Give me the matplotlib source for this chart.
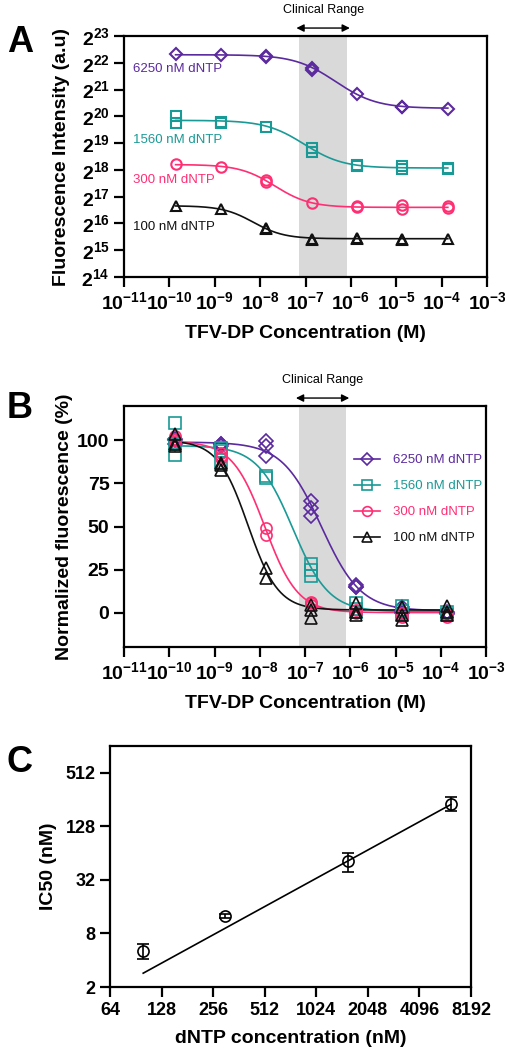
import numpy as np
import matplotlib
matplotlib.use('Agg')
from matplotlib import pyplot as plt
from matplotlib import transforms

plt.rcParams['font.family'] = ['Liberation Sans', 'DejaVu Sans']
plt.rcParams['mathtext.fontset'] = 'custom'
plt.rcParams['mathtext.rm'] = 'Liberation Sans:bold'
plt.rcParams['mathtext.bf'] = 'Liberation Sans:bold'
plt.rcParams['mathtext.it'] = 'Liberation Sans:bold:italic'

# TFV-DP concentrations (M)
conc = [1.37e-10, 1.37e-9, 1.37e-8, 1.37e-7, 1.37e-6, 1.37e-5, 1.37e-4]
series = ['6250 nM dNTP', '1560 nM dNTP', '300 nM dNTP', '100 nM dNTP']
colors = ['#5b2a9f', '#1a9a96', '#ff2f74', '#111111']
markers = ['D', 's', 'o', '^']

# panel A: log2 fluorescence, replicates per concentration
a_6250 = [[22.31], [22.28], [22.25, 22.22], [21.82, 21.74], [20.83], [20.33, 20.36], [20.28]]
a_1560 = [[20.0, 19.76], [19.78, 19.74], [19.61], [18.8, 18.67], [18.2, 18.16], [18.16, 18.04], [18.08, 18.03]]
a_300 = [[18.21], [18.12], [17.62, 17.55], [16.77], [16.64, 16.6], [16.68, 16.55], [16.64, 16.57]]
a_100 = [[16.65], [16.53], [15.79, 15.82], [15.43, 15.38], [15.43, 15.46], [15.42, 15.38], [15.43]]

# panel B: normalized fluorescence (%)
b_6250 = [[101, 100, 98], [97.9, 96.5, 98], [99.4, 96.5, 91], [65, 61, 56], [16, 14.7, 15], [3.5, 0, 1], [0, -1, 0.5]]
b_1560 = [[110, 91.7, 98], [95.5, 93.6, 86.8], [79.5, 78], [28, 24.8, 21.5], [5.4, 0.6, 2], [3.9, -1.4, 1], [-1.4, 0.6]]
b_300 = [[102.7, 101, 99.4], [92.6, 89.7, 91], [49.4, 44.8], [6.4, 5.4, 4.5], [-0.4, 1.5], [-0.4, -2.3], [-1.4, -2.3]]
b_100 = [[104, 98, 96.5], [86.8, 82.9, 85.5], [25.8, 20.3], [4.5, 1.6, -2.9], [5.4, 0.6, -1.4], [3.5, -1.4, -4.3], [3.9, 0.6, -1.4]]

# curve fit parameters: top, bottom, IC50 (M), hill
fitA = [(2**22.3, 2**20.3, 2.3e-7, 1.0), (2**19.85, 2**18.07, 5.2e-8, 1.05),
        (2**18.2, 2**16.6, 1.3e-8, 1.15), (2**16.66, 2**15.43, 5.1e-9, 1.3)]
fitB = [(99, 1, 2.3e-7, 1.0), (97, 0.5, 5.4e-8, 1.1),
        (99.5, 0, 1.3e-8, 1.2), (100, 1.5, 5.5e-9, 1.3)]

# panel C: IC50 vs dNTP
dntp = [100, 300, 1560, 6250]
ic50 = [5.1, 12.6, 52, 230]
ic50_sd = [1.0, 0.6, 13, 40]
c_slope, c_icpt = 1.056, -5.50   # log2(IC50) = slope*log2(dNTP) + icpt

clin_lo, clin_hi = 7.2e-8, 8.1e-7

fig = plt.figure(figsize=(5.05, 10.5), dpi=100)
W, H = 505, 1050


def px_axes(left, top, right, bottom):
    return fig.add_axes([left / W, 1 - bottom / H, (right - left) / W, (bottom - top) / H])


def style(ax, size=14):
    for s in ax.spines.values():
        s.set_linewidth(1.6)
    ax.tick_params(which='major', direction='out', length=7.5, width=1.6, labelsize=size,
                   top=False, right=False, pad=3)
    ax.tick_params(which='minor', length=0)
    for lab in ax.get_xticklabels() + ax.get_yticklabels():
        lab.set_fontweight('bold')


def curve(x, p):
    top, bot, ic, h = p
    return bot + (top - bot) / (1 + (x / ic) ** h)


def clinical(ax):
    ax.axvspan(clin_lo, clin_hi, color='#d9d9d9', lw=0, zorder=0)
    tr = transforms.blended_transform_factory(ax.transData, ax.transAxes)
    ax.annotate('', xy=(6.3e-8, 1.033), xytext=(9.5e-7, 1.033), xycoords=tr, textcoords=tr,
                arrowprops=dict(arrowstyle='<|-|>', color='black', lw=1.0, mutation_scale=11,
                                shrinkA=0, shrinkB=0), annotation_clip=False)
    ax.text(2.45e-7, 1.108, 'Clinical Range', transform=tr, ha='center', va='center',
            fontsize=9, clip_on=False)


xfine = np.logspace(np.log10(conc[0]), np.log10(conc[-1]), 300)
xticks = [10.0 ** k for k in range(-11, -2)]
xticklabels = ['$10^{%d}$' % k for k in range(-11, -2)]

# ---- Panel A ----
axA = px_axes(124, 36, 487, 277)
axA.set_xscale('log')
axA.set_yscale('log', base=2)
clinical(axA)
label_pos = [21.75, 19.13, 17.61, 15.87]
for reps, p, c, m, name, ly in zip([a_6250, a_1560, a_300, a_100], fitA, colors, markers,
                                   series, label_pos):
    axA.plot(xfine, curve(xfine, p), color=c, lw=1.2, zorder=2)
    for x, r in zip(conc, reps):
        axA.plot([x] * len(r), [2 ** v for v in r], ls='none', marker=m, mfc='none', mec=c,
                 mew=1.5, ms=7.5 if m != 'D' else 6.5, zorder=3)
    axA.text(1.6e-11, 2 ** ly, name, color=c, fontsize=9.5, ha='left', va='center')
axA.set_xlim(1e-11, 1e-3)
axA.set_ylim(2 ** 14, 2 ** 23)
axA.set_xticks(xticks)
axA.set_xticklabels(xticklabels)
axA.set_yticks([2 ** k for k in range(14, 24)])
axA.set_yticklabels(['$2^{%d}$' % k for k in range(14, 24)])
axA.set_xlabel('TFV-DP Concentration (M)', fontsize=14, fontweight='bold', labelpad=8)
axA.set_ylabel('Fluorescence Intensity (a.u)', fontsize=14, fontweight='bold', labelpad=8)
style(axA)

# ---- Panel B ----
axB = px_axes(124, 406, 486, 647)
axB.set_xscale('log')
clinical(axB)
for reps, p, c, m, name in zip([b_6250, b_1560, b_300, b_100], fitB, colors, markers, series):
    axB.plot(xfine, curve(xfine, p), color=c, lw=1.2, zorder=2)
    for x, r in zip(conc, reps):
        axB.plot([x] * len(r), r, ls='none', marker=m, mfc='none', mec=c,
                 mew=1.2, ms=8 if m != 'D' else 7, zorder=3)
    axB.plot([], [], color=c, lw=1.2, marker=m, mfc='none', mec=c, mew=1.2,
             ms=7 if m != 'D' else 6, label=name)
leg = axB.legend(loc='upper left', bbox_to_anchor=(0.62, 0.823), frameon=False, fontsize=9.5,
                 handlelength=2.0, handletextpad=1.0, labelspacing=1.05, borderaxespad=0)
for t, c in zip(leg.get_texts(), colors):
    t.set_color(c)
axB.set_xlim(1e-11, 1e-3)
axB.set_ylim(-20, 120)
axB.set_xticks(xticks)
axB.set_xticklabels(xticklabels)
axB.set_yticks([0, 25, 50, 75, 100])
axB.set_xlabel('TFV-DP Concentration (M)', fontsize=14, fontweight='bold', labelpad=8)
axB.set_ylabel('Normalized fluorescence (%)', fontsize=14, fontweight='bold', labelpad=3)
style(axB)

# ---- Panel C ----
axC = px_axes(110, 746, 471, 987)
axC.set_xscale('log', base=2)
axC.set_yscale('log', base=2)
axC.errorbar(dntp, ic50, yerr=ic50_sd, fmt='o', mfc='none', mec='black', ecolor='black',
             ms=8, mew=1.2, elinewidth=1.2, capsize=4, capthick=1.2, zorder=3)
xl = np.array([dntp[0], dntp[-1]], dtype=float)
axC.plot(xl, 2 ** (c_slope * np.log2(xl) + c_icpt), color='black', lw=1.2)
axC.set_xlim(64, 8192)
axC.set_ylim(2, 1024)
cx = [64, 128, 256, 512, 1024, 2048, 4096, 8192]
cy = [2, 8, 32, 128, 512]
axC.set_xticks(cx)
axC.set_xticklabels([str(v) for v in cx])
axC.set_yticks(cy)
axC.set_yticklabels([str(v) for v in cy])
axC.set_xlabel('dNTP concentration (nM)', fontsize=14, fontweight='bold', labelpad=8)
axC.set_ylabel('IC50 (nM)', fontsize=14, fontweight='bold', labelpad=6)
style(axC, size=13)

# panel letters
for letter, ypx in [('A', 43), ('B', 408), ('C', 763)]:
    fig.text(20 / W, 1 - ypx / H, letter, fontsize=26, fontweight='bold', ha='center', va='center')

fig.savefig('out.png', dpi=100)
